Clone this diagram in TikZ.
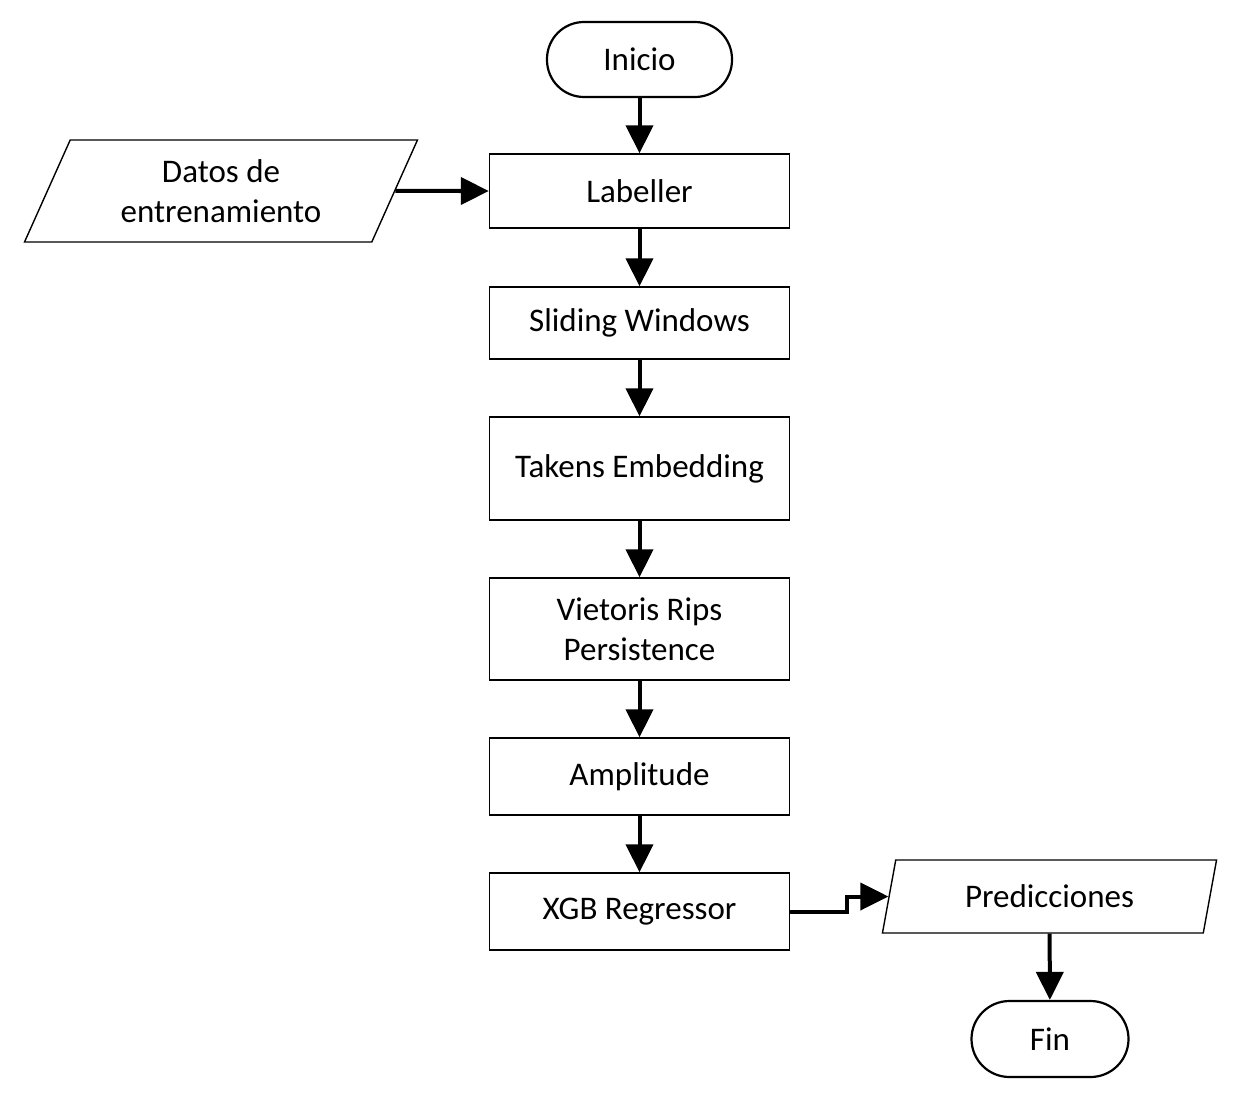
\documentclass[tikz,border=0pt]{standalone}
\usepackage{fontspec}
\setmainfont{Carlito}
\usetikzlibrary{arrows.meta,shapes.geometric}
\begin{document}
\begin{tikzpicture}[x=1pt,y=-1pt,
  every node/.style={font=\fontsize{33}{40}\selectfont, text=black, align=center, inner sep=0pt},
  proc/.style={draw=black, line width=1.4pt, fill=white, minimum width=300pt},
  term/.style={draw=black, line width=2.2pt, fill=white, rounded corners=37pt},
  io/.style={draw=black, line width=1.4pt, fill=white, trapezium, trapezium stretches=true},
  arr/.style={line width=4pt, -{Triangle[length=28pt,width=27pt]}}
]
\useasboundingbox (0,0) rectangle (1242,1097);
\node[term, minimum width=185pt, minimum height=75pt] (ini) at (639.5,59.5) {Inicio};
\node[proc, minimum height=74pt] (lab) at (639.5,191) {Labeller};
\node[proc, minimum height=72pt] (sli) at (639.5,323) {Sliding Windows};
\node[proc, minimum height=103pt] (tak) at (639.5,468.5) {Takens Embedding};
\node[proc, minimum height=102pt] (vie) at (639.5,629) {Vietoris Rips\\Persistence};
\node[proc, minimum height=77pt] (amp) at (639.5,776.5) {Amplitude};
\node[proc, minimum height=77pt] (xgb) at (639.5,911.5) {XGB Regressor};
\node[io, minimum width=394pt, minimum height=102pt, trapezium left angle=64.3, trapezium right angle=115.7] (dat) at (221,191) {Datos de\\entrenamiento};
\node[io, minimum width=335pt, minimum height=73pt, trapezium left angle=72.5, trapezium right angle=107.5] (pred) at (1049.5,896.5) {Predicciones};
\node[term, minimum width=157pt, minimum height=76pt, rounded corners=38pt] (fin) at (1050,1039) {Fin};
\draw[arr] (ini) -- (lab);
\draw[arr] (lab) -- (sli);
\draw[arr] (sli) -- (tak);
\draw[arr] (tak) -- (vie);
\draw[arr] (vie) -- (amp);
\draw[arr] (amp) -- (xgb);
\draw[arr] (dat.east) -- (lab.west);
\coordinate (jog) at (847,911.5);
\draw[arr] (xgb.east) -- (jog) |- (pred.west);
\draw[arr] (pred) -- (fin);
\end{tikzpicture}
\end{document}
